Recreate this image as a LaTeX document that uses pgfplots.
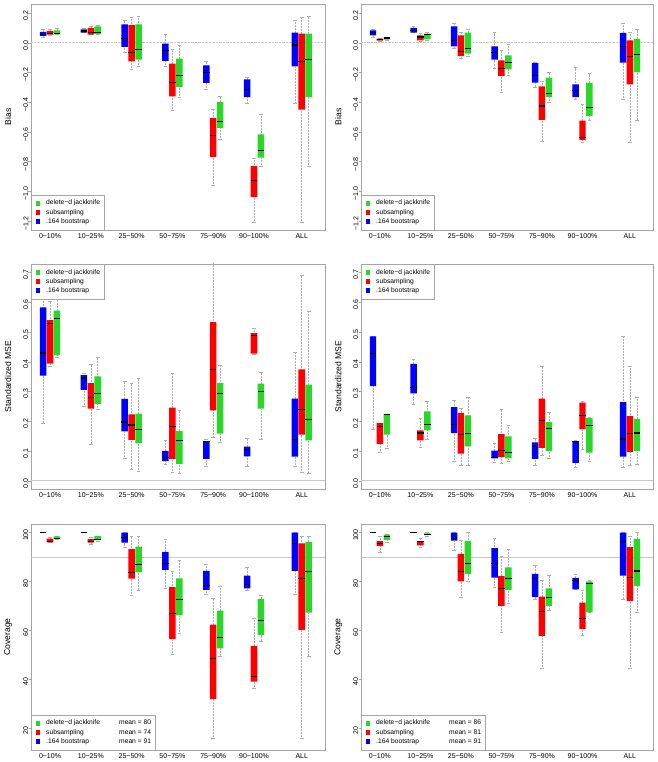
\documentclass[border=0pt]{standalone}
\usepackage{pgfplots}
\pgfplotsset{compat=1.18}
\usepackage{fontspec}
\setmainfont{Liberation Sans}
\definecolor{cb}{RGB}{0,0,255}
\definecolor{cr}{RGB}{255,0,0}
\definecolor{cg}{RGB}{40,215,40}
\definecolor{frm}{RGB}{165,165,165}
\definecolor{refc}{RGB}{200,200,200}
\definecolor{wsk}{RGB}{175,175,175}
% \bx{position}{lower whisker}{lower quartile}{median}{upper quartile}{upper whisker}{colour}
\newcommand{\bx}[7]{%
  \pgfmathsetmacro\bxl{#1-0.08}\pgfmathsetmacro\bxr{#1+0.08}%
  \pgfmathsetmacro\bxa{#1-0.045}\pgfmathsetmacro\bxb{#1+0.045}%
  \addplot[forget plot, wsk, densely dotted, line width=0.5pt, unbounded coords=jump] coordinates {(#1,#2) (#1,#3) (#1,nan) (#1,#5) (#1,#6)};
  \addplot[forget plot, wsk, line width=0.5pt, unbounded coords=jump] coordinates {(\bxa,#2) (\bxb,#2) (#1,nan) (\bxa,#6) (\bxb,#6)};
  \addplot[forget plot, fill=#7, draw=none] coordinates {(\bxl,#3) (\bxr,#3) (\bxr,#5) (\bxl,#5) (\bxl,#3)};
  \addplot[forget plot, black, line width=1.1pt] coordinates {(\bxl,#4) (\bxr,#4)};
}
\newcommand{\lab}{\fontsize{7}{8}\selectfont}
\pgfplotsset{
  sq/.style={legend image code/.code={\fill[#1, draw=none] (2.3pt,-2.3pt) rectangle (6.9pt,2.3pt); \path[draw=none, fill=none] (0pt,0pt) -- (11pt,0pt);}},
  panel/.style={
    scale only axis, anchor=south west,
    xmin=0.534, xmax=7.74,
    axis line style={frm},
    xtick={1,2,3,4,5,6,7.17},
    xticklabels={0−10\%,10−25\%,25−50\%,50−75\%,75−90\%,90−100\%,ALL},
    x tick style={draw=none},
    y tick style={frm},
    tick align=outside, ytick pos=left, xtick pos=bottom,
    major tick length=2.5pt,
    xticklabel style={font=\lab, inner sep=0pt, anchor=north, yshift=-1pt},
    yticklabel style={font=\lab, rotate=90, anchor=south, inner sep=0pt, xshift=-2.5pt},
    every axis y label/.style={at={(axis description cs:-0.078,0.5)}, rotate=90, anchor=center, font=\fontsize{8.6}{10}\selectfont},
    legend style={draw=frm, fill=white, font=\fontsize{6.7}{8}\selectfont, inner xsep=2pt, inner ysep=3pt, row sep=-1.2pt, cells={anchor=west}},
    legend cell align=left,
  },
  bias/.style={panel, width=294pt, height=226pt, ymin=-1.26, ymax=0.26,
    ytick={-1.2,-1,-0.8,-0.6,-0.4,-0.2,0,0.2},
    yticklabels={−1.2,−1.0,−0.8,−0.6,−0.4,−0.2,0.0,0.2},
    ylabel={Bias}, legend style={at={(0,0)}, anchor=south west}},
  mse/.style={panel, width=294pt, height=225pt, ymin=-0.028, ymax=0.728,
    ytick={0,0.1,0.2,0.3,0.4,0.5,0.6,0.7},
    yticklabels={0.0,0.1,0.2,0.3,0.4,0.5,0.6,0.7},
    ylabel={Standardized MSE}, legend style={at={(0,1)}, anchor=north west}},
  cov/.style={panel, width=294pt, height=226pt, ymin=11.1, ymax=103.5,
    ytick={20,40,60,80,100},
    yticklabels={20,40,60,80,100},
    ylabel={Coverage}, legend style={at={(0,0)}, anchor=south west}},
}
\newcommand{\legthree}{%
  \addlegendimage{sq=cg}
  \addlegendentry{delete−d jackknife}
  \addlegendimage{sq=cr}
  \addlegendentry{subsampling}
  \addlegendimage{sq=cb}
  \addlegendentry{.164 bootstrap}}
\newcommand{\legmean}[3]{%
  \addlegendimage{sq=cg}
  \addlegendentry{\makebox[73pt][l]{delete−d jackknife}mean = #1\hspace{22pt}}
  \addlegendimage{sq=cr}
  \addlegendentry{\makebox[73pt][l]{subsampling}mean = #2\hspace{22pt}}
  \addlegendimage{sq=cb}
  \addlegendentry{\makebox[73pt][l]{.164 bootstrap}mean = #3\hspace{22pt}}}
\begin{document}
\begin{tikzpicture}
\path[use as bounding box] (0pt,0pt) rectangle (657pt,762pt);
% ---------------- Bias, left
\begin{axis}[bias, at={(31pt,532pt)}]
\legthree
\addplot[forget plot, refc, densely dotted] coordinates {(0.534,0) (7.74,0)};
\bx{0.83}{0.034}{0.045}{0.056}{0.072}{0.09}{cb}
\bx{1}{0.05}{0.054}{0.06}{0.079}{0.09}{cr}
\bx{1.17}{0.054}{0.056}{0.06}{0.083}{0.094}{cg}
\bx{1.83}{0.067}{0.067}{0.078}{0.09}{0.10}{cb}
\bx{2}{0.054}{0.054}{0.067}{0.099}{0.11}{cr}
\bx{2.17}{0.058}{0.058}{0.067}{0.11}{0.117}{cg}
\bx{2.83}{-0.067}{-0.029}{0.027}{0.123}{0.15}{cb}
\bx{3}{-0.18}{-0.126}{-0.067}{0.117}{0.173}{cr}
\bx{3.17}{-0.16}{-0.114}{-0.047}{0.123}{0.177}{cg}
\bx{3.83}{-0.16}{-0.123}{-0.052}{-0.007}{0.054}{cb}
\bx{4}{-0.455}{-0.361}{-0.267}{-0.141}{-0.047}{cr}
\bx{4.17}{-0.366}{-0.298}{-0.22}{-0.108}{-0.018}{cg}
\bx{4.83}{-0.314}{-0.271}{-0.202}{-0.153}{-0.126}{cb}
\bx{5}{-0.96}{-0.769}{-0.624}{-0.507}{-0.446}{cr}
\bx{5.17}{-0.65}{-0.574}{-0.529}{-0.399}{-0.361}{cg}
\bx{5.83}{-0.41}{-0.366}{-0.316}{-0.247}{-0.236}{cb}
\bx{6}{-1.207}{-1.039}{-0.926}{-0.83}{-0.78}{cr}
\bx{6.17}{-0.832}{-0.774}{-0.725}{-0.617}{-0.482}{cg}
\bx{7}{-0.41}{-0.159}{-0.016}{0.067}{0.15}{cb}
\bx{7.17}{-1.207}{-0.451}{-0.126}{0.061}{0.173}{cr}
\bx{7.34}{-0.832}{-0.366}{-0.114}{0.061}{0.177}{cg}
\end{axis}
% ---------------- Bias, right
\begin{axis}[bias, at={(361pt,532pt)}, width=292pt]
\legthree
\addplot[forget plot, refc, densely dotted] coordinates {(0.534,0) (7.74,0)};
\bx{0.83}{0.034}{0.049}{0.067}{0.083}{0.09}{cb}
\bx{1}{0.011}{0.013}{0.02}{0.027}{0.031}{cr}
\bx{1.17}{0.018}{0.02}{0.031}{0.034}{0.036}{cg}
\bx{1.83}{0.067}{0.067}{0.083}{0.1}{0.11}{cb}
\bx{2}{0.011}{0.016}{0.038}{0.049}{0.06}{cr}
\bx{2.17}{0.016}{0.022}{0.054}{0.06}{0.072}{cg}
\bx{2.83}{-0.04}{-0.025}{0.016}{0.11}{0.132}{cb}
\bx{3}{-0.108}{-0.09}{-0.061}{0.049}{0.072}{cr}
\bx{3.17}{-0.092}{-0.074}{-0.04}{0.067}{0.087}{cg}
\bx{3.83}{-0.175}{-0.114}{-0.067}{-0.025}{0.067}{cb}
\bx{4}{-0.332}{-0.224}{-0.175}{-0.119}{-0.052}{cr}
\bx{4.17}{-0.22}{-0.179}{-0.135}{-0.085}{-0.011}{cg}
\bx{4.83}{-0.298}{-0.269}{-0.22}{-0.137}{-0.135}{cb}
\bx{5}{-0.66}{-0.52}{-0.426}{-0.294}{-0.258}{cr}
\bx{5.17}{-0.40}{-0.366}{-0.343}{-0.235}{-0.197}{cg}
\bx{5.83}{-0.384}{-0.366}{-0.321}{-0.28}{-0.168}{cb}
\bx{6}{-0.67}{-0.655}{-0.64}{-0.525}{-0.417}{cr}
\bx{6.17}{-0.52}{-0.493}{-0.437}{-0.271}{-0.209}{cg}
\bx{7}{-0.38}{-0.135}{-0.025}{0.065}{0.13}{cb}
\bx{7.17}{-0.67}{-0.28}{-0.095}{0.015}{0.072}{cr}
\bx{7.34}{-0.52}{-0.2}{-0.078}{0.025}{0.087}{cg}
\end{axis}
% ---------------- MSE, left
\begin{axis}[mse, at={(31pt,273pt)}]
\legthree
\addplot[forget plot, refc] coordinates {(0.534,0) (7.74,0)};
\bx{0.83}{0.194}{0.353}{0.429}{0.582}{0.66}{cb}
\bx{1}{0.385}{0.393}{0.527}{0.539}{0.604}{cr}
\bx{1.17}{0.415}{0.421}{0.544}{0.571}{0.622}{cg}
\bx{1.83}{0.25}{0.305}{0.345}{0.355}{0.36}{cb}
\bx{2}{0.124}{0.242}{0.28}{0.328}{0.39}{cr}
\bx{2.17}{0.24}{0.257}{0.293}{0.35}{0.414}{cg}
\bx{2.83}{0.076}{0.166}{0.197}{0.275}{0.333}{cb}
\bx{3}{0.037}{0.137}{0.187}{0.223}{0.328}{cr}
\bx{3.17}{0.031}{0.125}{0.173}{0.225}{0.345}{cg}
\bx{3.83}{0.054}{0.066}{0.079}{0.1}{0.135}{cb}
\bx{4}{0.028}{0.073}{0.183}{0.245}{0.36}{cr}
\bx{4.17}{0.026}{0.056}{0.135}{0.167}{0.236}{cg}
\bx{4.83}{0.048}{0.073}{0.131}{0.133}{0.14}{cb}
\bx{5}{0.145}{0.236}{0.372}{0.533}{0.75}{cr}
\bx{5.17}{0.129}{0.158}{0.293}{0.328}{0.388}{cg}
\bx{5.83}{0.05}{0.082}{0.105}{0.114}{0.143}{cb}
\bx{6}{0.425}{0.427}{0.487}{0.496}{0.513}{cr}
\bx{6.17}{0.138}{0.242}{0.301}{0.326}{0.363}{cg}
\bx{7}{0.048}{0.081}{0.137}{0.276}{0.43}{cb}
\bx{7.17}{0.028}{0.155}{0.238}{0.374}{0.69}{cr}
\bx{7.34}{0.026}{0.135}{0.204}{0.323}{0.57}{cg}
\end{axis}
% ---------------- MSE, right
\begin{axis}[mse, at={(361pt,273pt)}, width=292pt]
\legthree
\addplot[forget plot, refc] coordinates {(0.534,0) (7.74,0)};
\bx{0.83}{0.174}{0.318}{0.428}{0.485}{0.485}{cb}
\bx{1}{0.096}{0.124}{0.182}{0.193}{0.193}{cr}
\bx{1.17}{0.109}{0.155}{0.221}{0.224}{0.224}{cg}
\bx{1.83}{0.258}{0.293}{0.314}{0.392}{0.408}{cb}
\bx{2}{0.112}{0.135}{0.16}{0.169}{0.21}{cr}
\bx{2.17}{0.138}{0.169}{0.189}{0.233}{0.267}{cg}
\bx{2.83}{0.065}{0.16}{0.188}{0.247}{0.27}{cb}
\bx{3}{0.053}{0.091}{0.155}{0.228}{0.244}{cr}
\bx{3.17}{0.053}{0.115}{0.157}{0.219}{0.28}{cg}
\bx{3.83}{0.062}{0.075}{0.079}{0.101}{0.127}{cb}
\bx{4}{0.057}{0.079}{0.1}{0.156}{0.24}{cr}
\bx{4.17}{0.065}{0.075}{0.096}{0.149}{0.186}{cg}
\bx{4.83}{0.053}{0.073}{0.116}{0.129}{0.143}{cb}
\bx{5}{0.087}{0.11}{0.202}{0.276}{0.383}{cr}
\bx{5.17}{0.075}{0.099}{0.176}{0.197}{0.23}{cg}
\bx{5.83}{0.044}{0.06}{0.131}{0.133}{0.135}{cb}
\bx{6}{0.107}{0.172}{0.22}{0.262}{0.267}{cr}
\bx{6.17}{0.066}{0.094}{0.186}{0.21}{0.214}{cg}
\bx{7}{0.044}{0.081}{0.14}{0.264}{0.485}{cb}
\bx{7.17}{0.053}{0.096}{0.157}{0.217}{0.383}{cr}
\bx{7.34}{0.054}{0.099}{0.16}{0.208}{0.28}{cg}
\end{axis}
% ---------------- Coverage, left
\begin{axis}[cov, at={(31pt,12pt)}]
\legmean{80}{74}{91}
\addplot[forget plot, refc] coordinates {(0.534,90) (7.74,90)};
\bx{0.83}{100}{100}{100}{100}{100}{cb}
\bx{1}{96}{96}{96.3}{97.5}{98}{cr}
\bx{1.17}{97.3}{97.3}{97.7}{98.4}{98.6}{cg}
\bx{1.83}{100}{100}{100}{100}{100}{cb}
\bx{2}{95.4}{95.9}{96.5}{97.3}{98.1}{cr}
\bx{2.17}{96.5}{96.9}{97.3}{98.6}{98.6}{cg}
\bx{2.83}{93.9}{95.9}{98.1}{100}{100}{cb}
\bx{3}{74.3}{81.2}{83.8}{93.2}{98.6}{cr}
\bx{3.17}{76.6}{83.7}{87.1}{94.3}{98.6}{cg}
\bx{3.83}{77.2}{84.7}{87.2}{92.1}{97.3}{cb}
\bx{4}{50.3}{56.4}{66.8}{77.7}{84.1}{cr}
\bx{4.17}{58.9}{66.1}{72.5}{81.3}{88.6}{cg}
\bx{4.83}{74.8}{76.6}{78.3}{84.3}{87.1}{cb}
\bx{5}{15.9}{31.9}{48.4}{62.4}{73.2}{cr}
\bx{5.17}{49.6}{52.7}{57.2}{68.1}{78.2}{cg}
\bx{5.83}{76.6}{77.2}{78.9}{82.4}{85.8}{cb}
\bx{6}{36.4}{39.1}{41.1}{53.7}{65}{cr}
\bx{6.17}{55.7}{58.2}{64}{72.9}{74.5}{cg}
\bx{7}{74.8}{84.3}{95.4}{100}{100}{cb}
\bx{7.17}{15.9}{60.2}{81.3}{95.6}{98.6}{cr}
\bx{7.34}{49.6}{67.3}{83.9}{96.2}{98.6}{cg}
\end{axis}
% ---------------- Coverage, right
\begin{axis}[cov, at={(361pt,12pt)}, width=292pt]
\legmean{86}{81}{91}
\addplot[forget plot, refc] coordinates {(0.534,90) (7.74,90)};
\bx{0.83}{100}{100}{100}{100}{100}{cb}
\bx{1}{91.8}{94.6}{95.6}{96.5}{98.4}{cr}
\bx{1.17}{96}{97}{98.4}{99.2}{99.5}{cg}
\bx{1.83}{100}{100}{100}{100}{100}{cb}
\bx{2}{94}{94.8}{96.2}{96.5}{97.7}{cr}
\bx{2.17}{98.4}{99}{99.3}{99.7}{100}{cg}
\bx{2.83}{92.6}{96.7}{97.5}{100}{100}{cb}
\bx{3}{73.6}{80}{84.2}{91.3}{97}{cr}
\bx{3.17}{80}{83.1}{87.5}{96.5}{100}{cg}
\bx{3.83}{77.7}{81.6}{87.5}{93.6}{97.7}{cb}
\bx{4}{59.3}{70}{77.2}{82.3}{90.2}{cr}
\bx{4.17}{71.1}{76.6}{81.1}{85.8}{93.2}{cg}
\bx{4.83}{72.9}{73.6}{81.1}{83.1}{86.6}{cb}
\bx{5}{44.5}{57.8}{67.7}{73.8}{80.4}{cr}
\bx{5.17}{68.4}{70}{73.3}{77.2}{82.7}{cg}
\bx{5.83}{76.8}{76.8}{80.4}{81.5}{83.1}{cb}
\bx{6}{58.2}{60.6}{65}{71.4}{76.6}{cr}
\bx{6.17}{67.4}{67.4}{79}{80}{80.4}{cg}
\bx{7}{72.9}{82.4}{96.5}{100}{100}{cb}
\bx{7.17}{44.5}{72.1}{81.7}{94}{98.4}{cr}
\bx{7.34}{67.4}{78.2}{84.3}{97.4}{100}{cg}
\end{axis}
\end{tikzpicture}
\end{document}
